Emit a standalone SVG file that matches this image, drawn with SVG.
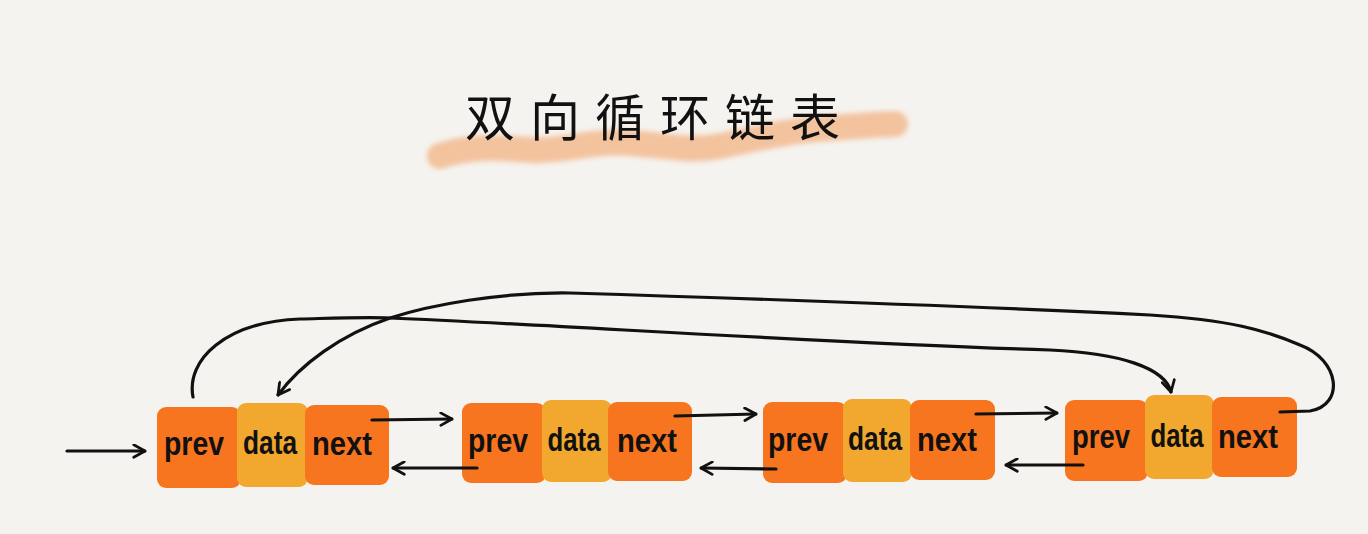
<svg xmlns="http://www.w3.org/2000/svg" width="1368" height="534" viewBox="0 0 1368 534">
<defs>
<style>
.bg{fill:#F5F3EF}
.pn{fill:#F8751F}
.dt{fill:#F2A82E}
.lb{font-family:"Liberation Sans","DejaVu Sans",sans-serif;font-size:34px;font-weight:bold;fill:#111;text-anchor:middle}
.ln{fill:none;stroke:#111;stroke-width:3.2;stroke-linecap:round;stroke-linejoin:round}
.title{font-family:"Noto Sans CJK SC","Noto Sans CJK JP",sans-serif;font-size:50px;fill:#111;letter-spacing:15px}
</style>
<marker id="ah" viewBox="0 0 12 12" refX="11" refY="6" markerWidth="15" markerHeight="15" markerUnits="userSpaceOnUse" orient="auto">
<path d="M2,1 L11,6 L2,11" fill="none" stroke="#111" stroke-width="2.2" stroke-linecap="round" stroke-linejoin="round"/>
</marker>
<filter id="soft" x="-10%" y="-50%" width="120%" height="200%"><feGaussianBlur stdDeviation="2.5"/></filter>
</defs>
<rect class="bg" x="0" y="0" width="1368" height="534"/>

<g id="title">
<path d="M440,156 C470,145 500,148 530,150 C565,152 590,140 630,143 C670,146 690,152 720,146 C760,138 790,130 830,128 C860,126 880,124 895,124" fill="none" stroke="#F3BE96" stroke-width="26" stroke-linecap="round" filter="url(#soft)" opacity="0.9"/>
<text class="title" x="465" y="136">双向循环链表</text>
</g>

<g id="node1">
<rect class="pn" x="157" y="407" width="84" height="81" rx="9"/>
<rect class="dt" x="237" y="403" width="71" height="84" rx="9"/>
<rect class="pn" x="305" y="405" width="84" height="80" rx="9"/>
<text class="lb" x="194" y="455" textLength="60" lengthAdjust="spacingAndGlyphs">prev</text>
<text class="lb" x="270" y="454" textLength="54" lengthAdjust="spacingAndGlyphs">data</text>
<text class="lb" x="342" y="455" textLength="60" lengthAdjust="spacingAndGlyphs">next</text>
</g>

<g id="node2">
<rect class="pn" x="462" y="403" width="84" height="80" rx="9"/>
<rect class="dt" x="542" y="400" width="70" height="82" rx="9"/>
<rect class="pn" x="608" y="402" width="84" height="79" rx="9"/>
<text class="lb" x="498" y="452" textLength="60" lengthAdjust="spacingAndGlyphs">prev</text>
<text class="lb" x="574" y="451" textLength="53" lengthAdjust="spacingAndGlyphs">data</text>
<text class="lb" x="647" y="452" textLength="60" lengthAdjust="spacingAndGlyphs">next</text>
</g>

<g id="node3">
<rect class="pn" x="763" y="402" width="84" height="81" rx="9"/>
<rect class="dt" x="843" y="399" width="69" height="83" rx="9"/>
<rect class="pn" x="910" y="400" width="85" height="80" rx="9"/>
<text class="lb" x="798" y="451" textLength="60" lengthAdjust="spacingAndGlyphs">prev</text>
<text class="lb" x="875" y="450" textLength="54" lengthAdjust="spacingAndGlyphs">data</text>
<text class="lb" x="947" y="451" textLength="60" lengthAdjust="spacingAndGlyphs">next</text>
</g>

<g id="node4">
<rect class="pn" x="1065" y="400" width="83" height="81" rx="9"/>
<rect class="dt" x="1145" y="395" width="69" height="84" rx="9"/>
<rect class="pn" x="1212" y="397" width="85" height="80" rx="9"/>
<text class="lb" x="1101" y="448" textLength="58" lengthAdjust="spacingAndGlyphs">prev</text>
<text class="lb" x="1177" y="447" textLength="53" lengthAdjust="spacingAndGlyphs">data</text>
<text class="lb" x="1248" y="448" textLength="60" lengthAdjust="spacingAndGlyphs">next</text>
</g>

<g id="connectors">
<path class="ln" d="M67,451 L145,451" marker-end="url(#ah)"/>
<path class="ln" d="M372,420 L452,419" marker-end="url(#ah)"/>
<path class="ln" d="M477,468 L393,468" marker-end="url(#ah)"/>
<path class="ln" d="M675,416 L756,414" marker-end="url(#ah)"/>
<path class="ln" d="M776,469 L701,468" marker-end="url(#ah)"/>
<path class="ln" d="M976,414 L1057,413" marker-end="url(#ah)"/>
<path class="ln" d="M1083,465 L1006,465" marker-end="url(#ah)"/>
<path class="ln" d="M193,397 C186,360 225,322 300,319 C340,318 365,317 390,318 C560,325 820,343 1050,350 C1120,353 1165,368 1171,392" marker-end="url(#ah)"/>
<path class="ln" d="M1280,412 L1310,411 C1345,405 1340,360 1300,345 C1265,330 1230,320 1150,315 C950,305 700,297 570,293 C500,292 430,305 390,318 C340,335 300,365 278,395" marker-end="url(#ah)"/>
</g>
</svg>
